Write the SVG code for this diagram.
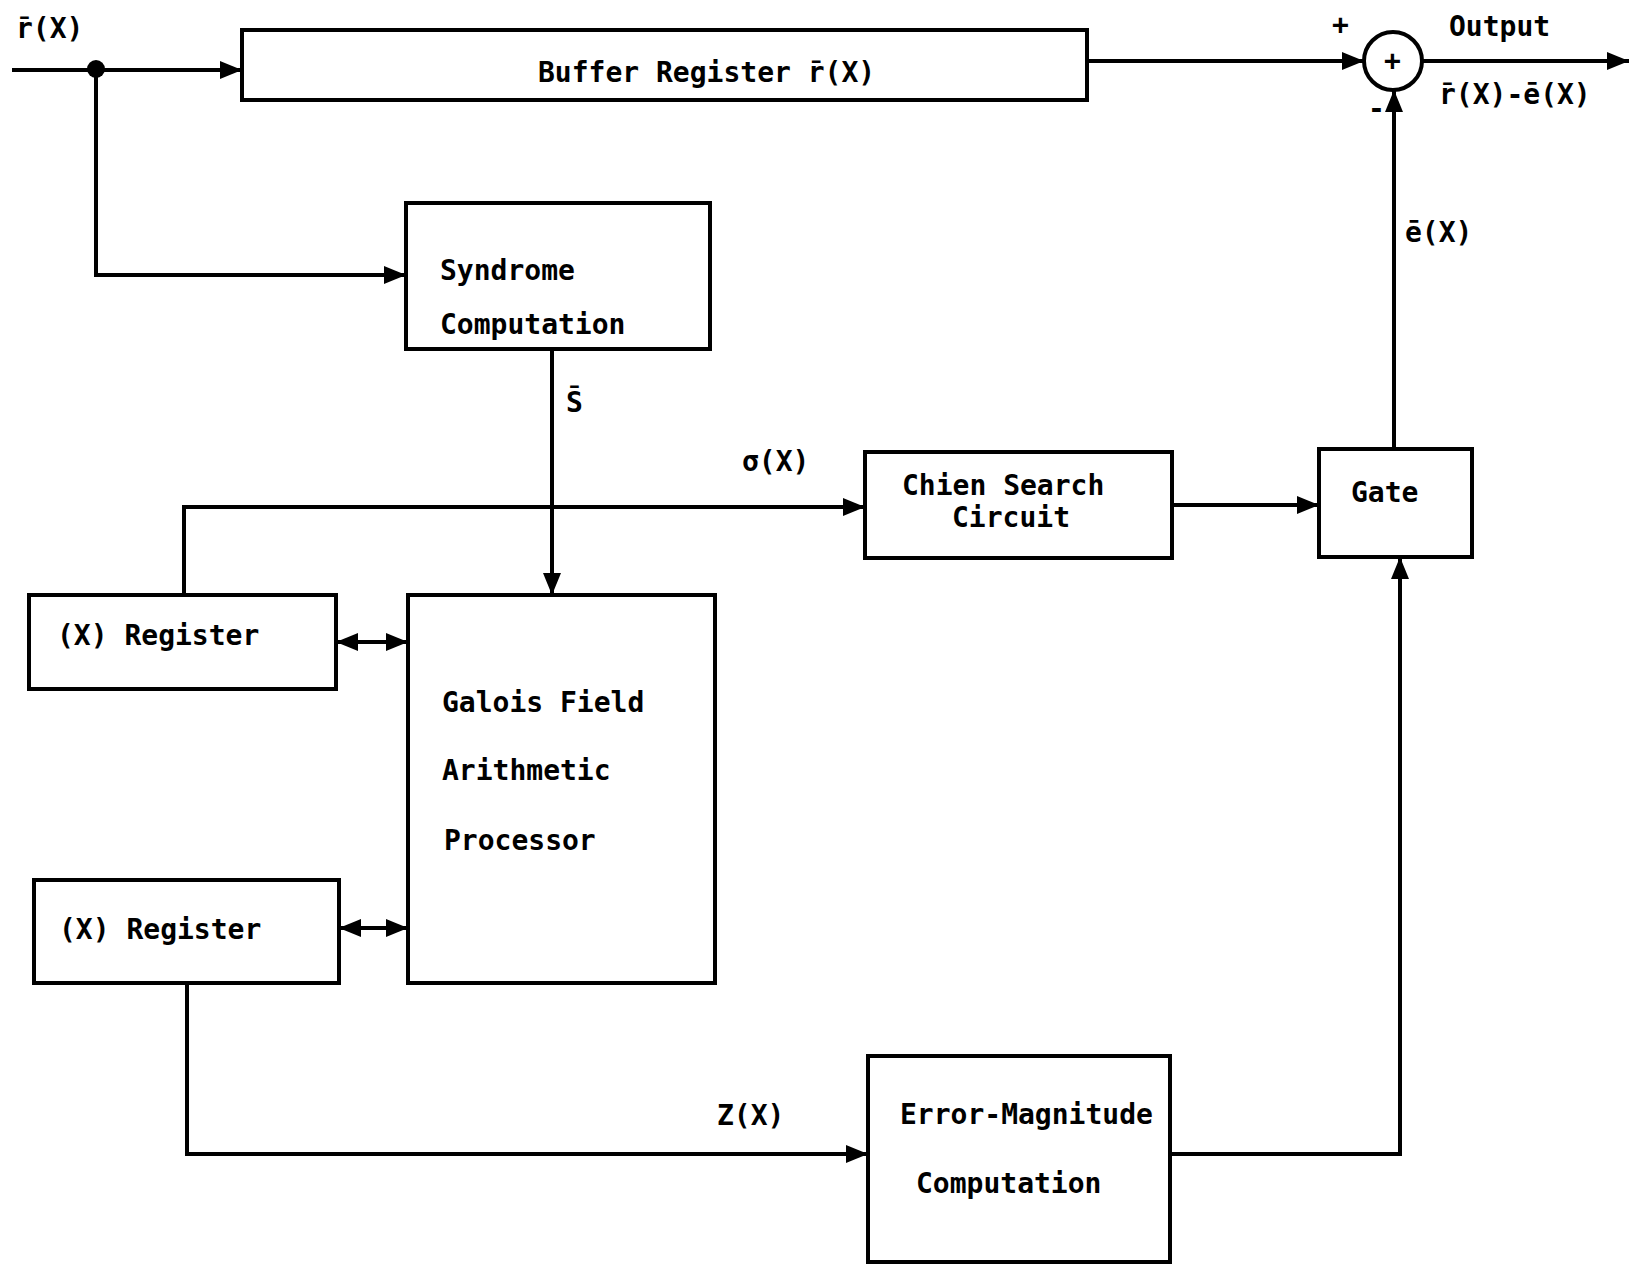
<svg xmlns="http://www.w3.org/2000/svg" width="1629" height="1264" viewBox="0 0 1629 1264">
<style>
.box{fill:none;stroke:#000;stroke-width:4}
.ln{fill:none;stroke:#000;stroke-width:4}
.arr{marker-end:url(#ah)}
.dbl{marker-start:url(#ah);marker-end:url(#ah)}
text{font-family:"DejaVu Sans Mono","Liberation Mono",monospace;font-size:28px;font-weight:bold;fill:#000}
</style>
<defs>
<marker id="ah" markerUnits="userSpaceOnUse" markerWidth="24" markerHeight="20" refX="22" refY="10" orient="auto-start-reverse">
<path d="M0,1 L22,10 L0,19 Z" fill="#000"/>
</marker>
</defs>
<rect width="1629" height="1264" fill="#fff"/>
<g id="connectors">
<line class="ln arr" x1="12" y1="70" x2="242" y2="70"/>
<circle cx="96" cy="69" r="9" fill="#000"/>
<polyline class="ln arr" points="96,70 96,275 406,275"/>
<line class="ln arr" x1="1087" y1="61" x2="1364" y2="61"/>
<line class="ln arr" x1="1422" y1="61" x2="1629" y2="61"/>
<line class="ln arr" x1="1394" y1="449" x2="1394" y2="90"/>
<line class="ln arr" x1="552" y1="349" x2="552" y2="595"/>
<polyline class="ln arr" points="184,595 184,507 865,507"/>
<line class="ln arr" x1="1172" y1="505" x2="1319" y2="505"/>
<line class="ln dbl" x1="336" y1="642" x2="408" y2="642"/>
<line class="ln dbl" x1="339" y1="928" x2="408" y2="928"/>
<polyline class="ln arr" points="187,983 187,1154 868,1154"/>
<polyline class="ln arr" points="1170,1154 1400,1154 1400,557"/>
</g>
<g id="input-label"><text x="16" y="38">r̄(X)</text></g>
<g id="buffer">
<rect class="box" x="242" y="30" width="845" height="70"/>
<text x="538" y="82">Buffer Register r̄(X)</text>
</g>
<g id="adder">
<circle class="box" cx="1393" cy="61" r="29"/>
<text x="1384" y="70" font-size="22">+</text>
<text x="1332" y="34" font-size="22">+</text>
<text x="1368" y="118" font-size="22">-</text>
</g>
<g id="output-labels">
<text x="1449" y="36">Output</text>
<text x="1439" y="104">r̄(X)-ē(X)</text>
<text x="1405" y="242">ē(X)</text>
</g>
<g id="syndrome">
<rect class="box" x="406" y="203" width="304" height="146"/>
<text x="440" y="280">Syndrome</text>
<text x="440" y="334">Computation</text>
</g>
<g id="s-label"><text x="566" y="412">S̄</text></g>
<g id="sigma-label"><text x="742" y="471" font-weight="normal">σ(X)</text></g>
<g id="chien">
<rect class="box" x="865" y="452" width="307" height="106"/>
<text x="902" y="495">Chien Search</text>
<text x="952" y="527">Circuit</text>
</g>
<g id="gate">
<rect class="box" x="1319" y="449" width="153" height="108"/>
<text x="1351" y="502">Gate</text>
</g>
<g id="register1">
<rect class="box" x="29" y="595" width="307" height="94"/>
<text x="57" y="645">(X) Register</text>
</g>
<g id="gf">
<rect class="box" x="408" y="595" width="307" height="388"/>
<text x="442" y="712">Galois Field</text>
<text x="442" y="780">Arithmetic</text>
<text x="444" y="850">Processor</text>
</g>
<g id="register2">
<rect class="box" x="34" y="880" width="305" height="103"/>
<text x="59" y="939">(X) Register</text>
</g>
<g id="z-label"><text x="717" y="1125" font-weight="normal">Z(X)</text></g>
<g id="error-magnitude">
<rect class="box" x="868" y="1056" width="302" height="206"/>
<text x="900" y="1124">Error-Magnitude</text>
<text x="916" y="1193">Computation</text>
</g>
</svg>
